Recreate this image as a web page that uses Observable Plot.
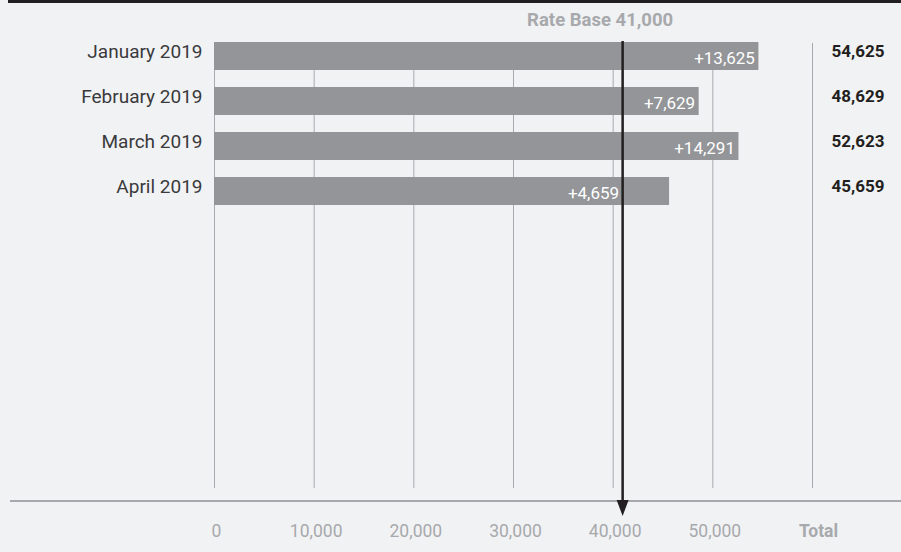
<!DOCTYPE html>
<html><head><meta charset="utf-8">
<script src="https://cdn.jsdelivr.net/npm/d3@7"></script>
<script src="https://cdn.jsdelivr.net/npm/@observablehq/plot@0.6"></script>
<style>
html,body{margin:0;padding:0;background:#f1f2f4;}
#chart svg{display:block;}
</style></head><body><div id="chart"></div>
<script>
const months = ["January 2019", "February 2019", "March 2019", "April 2019"];
const totals = [54625, 48629, 52623, 45659];
const increments = [13625, 7629, 14291, 4659];
const rateBase = 41000;
const rateBaseLabel = "Rate Base 41,000";
const tickValues = [0, 10000, 20000, 30000, 40000, 50000];
const totalColumnPos = 60000;
const totalColumnLabel = "Total";

const rows = months.map((m, i) => ({month: m, total: totals[i], inc: increments[i]}));
const fmt = d3.format(",");
const FONT = `Roboto,"DejaVu Sans Condensed",sans-serif`;

const plot = Plot.plot({
  width: 901, height: 552,
  marginLeft: 214, marginRight: 89, marginTop: 43, marginBottom: 64,
  style: {background: "#f1f2f4", fontFamily: FONT, fontSize: "18px", overflow: "visible"},
  x: {domain: [0, 60000], axis: null},
  y: {domain: months, range: [41, 205], paddingInner: 0.38, paddingOuter: 0, axis: null},
  marks: [
    Plot.ruleX([...tickValues, totalColumnPos], {stroke: "#a7a9ac", strokeWidth: 1}),
    Plot.barX(rows, {x: "total", y: "month", fill: "#939598"}),
    Plot.axisX(tickValues, {label: null, tickSize: 0, tickPadding: 36, dx: 2, fill: "#a7a9ac", fontSize: 17.5, tickFormat: fmt}),
    Plot.text([totalColumnLabel], {x: () => totalColumnPos, frameAnchor: "bottom", lineAnchor: "top", dy: 36, dx: 6,
      fill: "#a7a9ac", fontWeight: "bold", fontSize: 17.5}),
    Plot.axisY({label: null, tickSize: 0, tickPadding: 12, fill: "#3a3a3c", fontSize: 19, dy: -5}),
    Plot.text(rows, {x: d => (d.total - rateBase < 6000 ? rateBase : d.total), y: "month", text: d => "+" + fmt(d.inc),
      textAnchor: "end", dx: -4, dy: 2, fill: "white", fontSize: 17}),
    Plot.text(rows, {y: "month", frameAnchor: "right", text: d => fmt(d.total), textAnchor: "end",
      dx: 72, dy: -5, fontWeight: "bold", fill: "#231f20", fontSize: 17}),
    Plot.text([rateBase], {x: d => d, text: () => rateBaseLabel, frameAnchor: "top", lineAnchor: "middle", dy: -23, dx: -23,
      fontWeight: "bold", fill: "#a7a9ac", fontSize: 18.5})
  ]
});

const svg = d3.select(plot);
const ax = plot.scale("x").apply(rateBase);
const yTop = plot.scale("y").range[0];
svg.append("rect").attr("x", 8).attr("y", 0).attr("width", 893).attr("height", 3).attr("fill", "#231f20");
svg.append("line").attr("x1", 10).attr("x2", 901).attr("y1", 501).attr("y2", 501)
  .attr("stroke", "#a7a9ac").attr("stroke-width", 2);
svg.append("line").attr("x1", ax).attr("x2", ax).attr("y1", yTop).attr("y2", 503)
  .attr("stroke", "#231f20").attr("stroke-width", 2.5);
svg.append("path").attr("d", `M${ax - 6},500L${ax + 6},500L${ax},516Z`).attr("fill", "#231f20");

document.getElementById("chart").appendChild(plot);
</script></body></html>
